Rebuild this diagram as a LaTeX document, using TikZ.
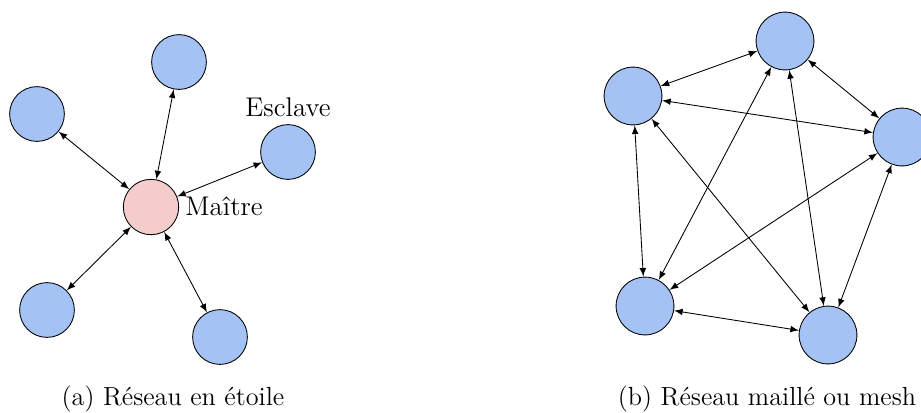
\documentclass[tikz,border=0pt]{standalone}
\usepackage{fontspec}
\usetikzlibrary{arrows}
\definecolor{slaveblue}{HTML}{A4C2F4}
\definecolor{masterpink}{HTML}{F4CCCC}
\begin{document}
\begin{tikzpicture}[x=0.01625cm,y=-0.01625cm,
  slave/.style={circle,draw,fill=slaveblue,minimum size=0.89cm,inner sep=0pt},
  mslave/.style={circle,draw,fill=slaveblue,minimum size=0.94cm,inner sep=0pt},
  master/.style={circle,draw,fill=masterpink,minimum size=0.9cm,inner sep=0pt},
  link/.style={latex-latex,thin},
  lbl/.style={inner sep=0pt,font=\fontsize{12.5}{15}\selectfont},
  captext/.style={inner sep=0pt,anchor=base,font=\fontsize{12.1}{14.5}\selectfont}]
\useasboundingbox (0,0) rectangle (921,412);
\clip (0,0) rectangle (921,412);
% star
\node[master] (m) at (151,207) {};
\node[slave] (s1) at (179,62) {};
\node[slave] (s2) at (37,114) {};
\node[slave] (s3) at (288,152) {};
\node[slave] (s4) at (47,310) {};
\node[slave] (s5) at (220,337) {};
\node[lbl,anchor=base] (le) at (288,116) {Esclave};
\node[lbl,anchor=base west] (lm) at (185,215) {Maître};
\foreach \s in {s1,s2,s3,s4,s5} \draw[link] (m) -- (\s);
\node[captext] (ca) at (173,405) {(a) Réseau en étoile};
% mesh
\node[mslave] (a) at (785,41) {};
\node[mslave] (b) at (633,96) {};
\node[mslave] (c) at (902,137) {};
\node[mslave] (d) at (645,306) {};
\node[mslave] (e) at (828,335) {};
\draw[link] (a) -- (b);
\draw[link] (a) -- (c);
\draw[link] (a) -- (d);
\draw[link] (a) -- (e);
\draw[link] (b) -- (c);
\draw[link] (b) -- (d);
\draw[link] (b) -- (e);
\draw[link] (c) -- (d);
\draw[link] (c) -- (e);
\draw[link] (d) -- (e);
\node[captext] (cb) at (767,405) {(b) Réseau maillé ou mesh};
\end{tikzpicture}
\end{document}
